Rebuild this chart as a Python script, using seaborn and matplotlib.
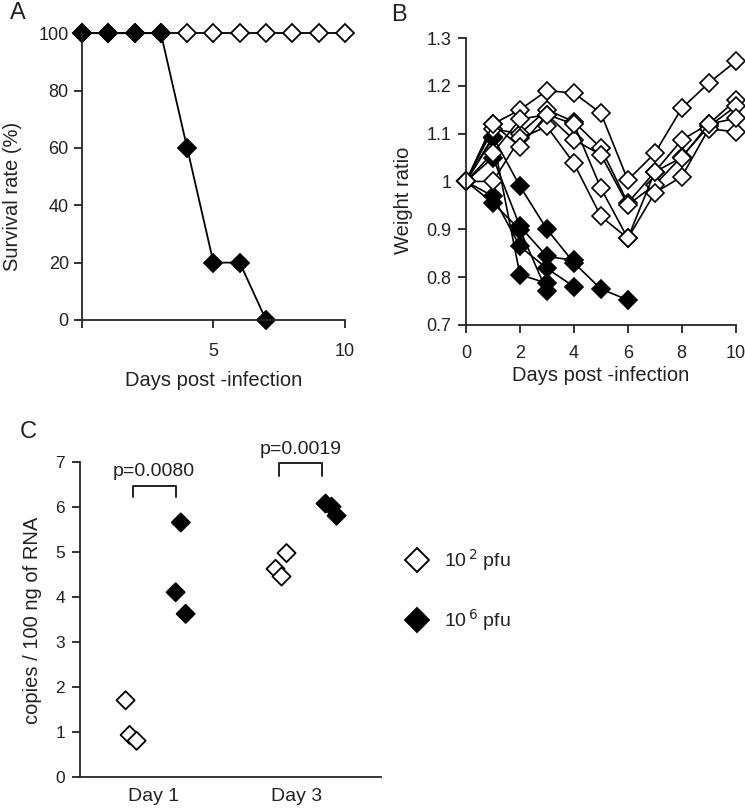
import matplotlib
matplotlib.use("Agg")
import matplotlib.pyplot as plt
from matplotlib.lines import Line2D
import seaborn as sns
import pandas as pd

# ---- data ----
# A: survival
days_low = list(range(11))
surv_low = [100] * 11
days_high = list(range(8))
surv_high = [100, 100, 100, 100, 60, 20, 20, 0]

# B: weight ratio, one list per mouse (day 0 onwards)
weight_low = [
    [1.0, 1.12, 1.15, 1.19, 1.185, 1.143, 1.003, 1.059, 1.153, 1.206, 1.251],
    [1.0, 1.11, 1.10, 1.15, 1.125, 1.07, 0.955, 1.02, 1.087, 1.12, 1.17],
    [1.0, 1.06, 1.13, 1.14, 1.087, 1.056, 0.951, 0.993, 1.052, 1.115, 1.157],
    [1.0, 1.0, 1.09, 1.115, 1.038, 0.927, 0.881, 0.976, 1.01, 1.11, 1.104],
    [1.0, 1.12, 1.073, 1.14, 1.12, 0.986, 0.881, 1.02, 1.05, 1.12, 1.132],
]
weight_high = [
    [1.0, 1.094, 0.99, 0.90, 0.83, 0.775, 0.752],
    [1.0, 1.05, 0.906, 0.843, 0.835],
    [1.0, 0.969, 0.864, 0.818, 0.78],
    [1.0, 0.955, 0.899, 0.77],
    [1.0, 1.09, 0.805, 0.787],
]

# C: viral copies (log10)
c_days = ["Day 1", "Day 3"]
c_low = [[1.7, 0.93, 0.8], [4.62, 4.45, 4.97]]
c_high = [[5.65, 4.1, 3.62], [6.07, 6.0, 5.8]]
c_low_nudge = [[-0.196, -0.168, -0.119], [-0.147, -0.105, -0.07]]
c_high_nudge = [[0.19, 0.154, 0.224], [0.203, 0.245, 0.28]]
p_values = ["p=0.0080", "p=0.0019"]

sns.set_style("ticks")
plt.rcParams["font.family"] = ["Liberation Sans", "DejaVu Sans"]
plt.rcParams["axes.linewidth"] = 1.3
plt.rcParams["xtick.major.width"] = 1.3
plt.rcParams["ytick.major.width"] = 1.3
plt.rcParams["xtick.color"] = "#222222"
plt.rcParams["ytick.color"] = "#222222"
plt.rcParams["text.color"] = "#222222"
plt.rcParams["axes.labelcolor"] = "#222222"

fig = plt.figure(figsize=(7.45, 8.10), dpi=100)


def long_table(series):
    rows = []
    for i, w in enumerate(series):
        for d, v in enumerate(w):
            rows.append({"mouse": i, "day": d, "ratio": v})
    return pd.DataFrame(rows)


# ---- panel A ----
axA = fig.add_axes([0.110, 0.605, 0.353, 0.354])
dfa_low = pd.DataFrame({"day": days_low, "surv": surv_low})
dfa_high = pd.DataFrame({"day": days_high, "surv": surv_high})
sns.lineplot(data=dfa_low, x="day", y="surv", ax=axA, color="black", lw=1.3,
             marker="D", markersize=9, markerfacecolor="white",
             markeredgecolor="black", markeredgewidth=1.3, clip_on=False)
sns.lineplot(data=dfa_high, x="day", y="surv", ax=axA, color="black", lw=1.3,
             marker="D", markersize=9, markerfacecolor="black",
             markeredgecolor="black", markeredgewidth=1.3, clip_on=False)
axA.set_xlim(0, 10)
axA.set_ylim(0, 100)
axA.set_xticks([0, 5, 10])
axA.set_xticklabels(["", "5", "10"])
axA.set_yticks(range(0, 101, 20))
axA.tick_params(labelsize=13, length=5.5, pad=4)
axA.tick_params(axis="x", pad=11)
axA.set_xlabel("Days post -infection", fontsize=14.5, labelpad=8)
axA.set_ylabel("Survival rate (%)", fontsize=14.5)
axA.yaxis.set_label_coords(-0.228, 0.43)
sns.despine(ax=axA)

# ---- panel B ----
axB = fig.add_axes([0.6255, 0.599, 0.362, 0.354])
sns.lineplot(data=long_table(weight_high), x="day", y="ratio", units="mouse",
             estimator=None, ax=axB, color="black", lw=1.2, marker="D",
             markersize=9.5, markerfacecolor="black", markeredgecolor="black",
             markeredgewidth=1.2, clip_on=False)
sns.lineplot(data=long_table(weight_low), x="day", y="ratio", units="mouse",
             estimator=None, ax=axB, color="black", lw=1.2, marker="D",
             markersize=9.5, markerfacecolor="white", markeredgecolor="black",
             markeredgewidth=1.2, clip_on=False)
axB.set_xlim(0, 10)
axB.set_ylim(0.7, 1.3)
axB.set_xticks(range(0, 11, 2))
axB.set_yticks([0.7, 0.8, 0.9, 1.0, 1.1, 1.2, 1.3])
axB.set_yticklabels(["0.7", "0.8", "0.9", "1", "1.1", "1.2", "1.3"])
axB.tick_params(labelsize=13, length=5.5, pad=5)
axB.tick_params(axis="x", pad=9)
axB.set_xlabel("Days post -infection", fontsize=14.5, labelpad=3)
axB.set_ylabel("Weight ratio", fontsize=14.5)
axB.yaxis.set_label_coords(-0.196, 0.435)
sns.despine(ax=axB)

# ---- panel C ----
axC = fig.add_axes([0.107, 0.041, 0.405, 0.389])
rows = []
for di, day in enumerate(c_days):
    for v, nd in zip(c_low[di], c_low_nudge[di]):
        rows.append({"x": di + nd, "copies": v, "dose": "low"})
    for v, nd in zip(c_high[di], c_high_nudge[di]):
        rows.append({"x": di + nd, "copies": v, "dose": "high"})
dfc = pd.DataFrame(rows)
sns.scatterplot(data=dfc, x="x", y="copies", hue="dose", ax=axC,
                palette={"low": "white", "high": "black"}, marker="D", s=85,
                edgecolor="black", linewidth=1.3, legend=False, zorder=3)
axC.set_xlim(-0.517, 1.594)
axC.set_ylim(0, 7)
axC.set_xticks([0, 1])
axC.set_xticklabels(c_days, fontsize=14)
axC.set_yticks(range(8))
axC.tick_params(axis="y", labelsize=12.5, length=5.5, pad=5)
axC.tick_params(axis="x", length=0, pad=8)
axC.set_xlabel("")
axC.set_ylabel("copies / 100 ng of RNA", fontsize=14.5)
axC.yaxis.set_label_coords(-0.126, 0.495)
sns.despine(ax=axC)

# significance brackets
brackets = [(-0.147, 0.154, 6.47, 6.22), (0.88, 1.18, 6.97, 6.69)]
for (x0, x1, top, leg), p in zip(brackets, p_values):
    axC.plot([x0, x0, x1, x1], [leg, top, top, leg], color="#222222", lw=1.4,
             clip_on=False)
    axC.text((x0 + x1) / 2, top + 0.12, p, ha="center", va="bottom",
             fontsize=14)

# legend
handles = [
    Line2D([], [], ls="", marker="D", markersize=12.5, markerfacecolor="white",
           markeredgecolor="black", markeredgewidth=1.4),
    Line2D([], [], ls="", marker="D", markersize=12.5, markerfacecolor="black",
           markeredgecolor="black", markeredgewidth=1.4),
]
fig.legend(handles, [r"10$^{\,2}$ pfu", r"10$^{\,6}$ pfu"], loc="center left",
           bbox_to_anchor=(0.51, 0.271), frameon=False, labelspacing=1.75,
           handletextpad=0.4, prop={"size": 14})

# panel letters
fig.text(0.013, 0.984, "A", fontsize=17, va="center")
fig.text(0.525, 0.981, "B", fontsize=17, va="center")
fig.text(0.027, 0.467, "C", fontsize=17, va="center")

fig.savefig("out.png", dpi=100)
plt.close(fig)
